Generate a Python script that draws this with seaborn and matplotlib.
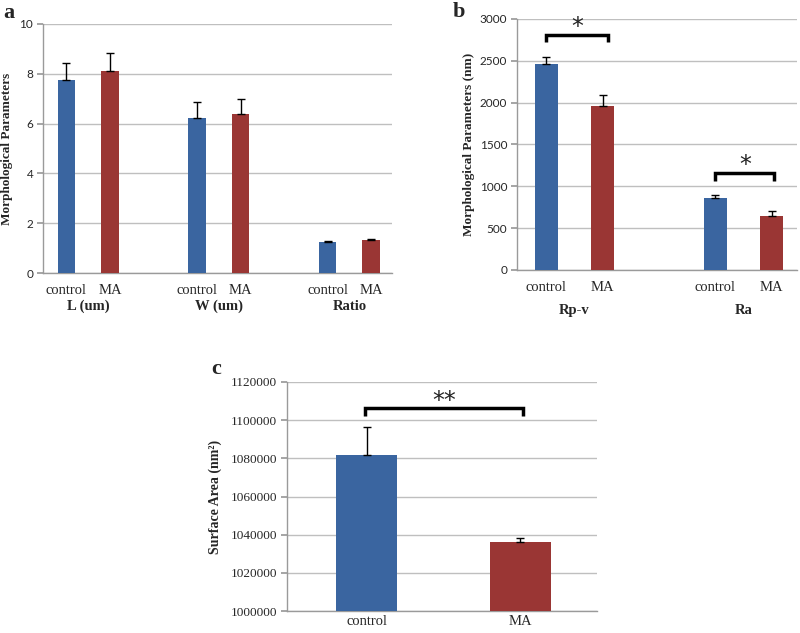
import matplotlib
matplotlib.use("Agg")
import matplotlib.pyplot as plt
import matplotlib.ticker as mticker
import seaborn as sns
import pandas as pd

# panel a - cell size
a_groups = ["L (um)", "W (um)", "Ratio"]
a_control = [7.75, 6.22, 1.25]
a_control_err = [0.70, 0.63, 0.04]
a_ma = [8.12, 6.37, 1.31]
a_ma_err = [0.73, 0.60, 0.05]

# panel b - roughness
b_groups = ["Rp-v", "Ra"]
b_control = [2460, 857]
b_control_err = [90, 43]
b_ma = [1960, 650]
b_ma_err = [135, 60]

# panel c - surface area
c_control = [1082000]
c_control_err = [14500]
c_ma = [1036000]
c_ma_err = [2000]

conditions = ["control", "MA"]
colors = {"control": "#3A65A0", "MA": "#9A3634"}

sns.set_theme(style="white")
plt.rcParams["font.family"] = ["Liberation Serif", "DejaVu Serif"]
SANS = ["Lato", "DejaVu Sans"]
SERIF = ["Liberation Serif", "DejaVu Serif"]


def make_df(control, control_err, ma, ma_err, step):
    rows = []
    for i in range(len(control)):
        rows.append({"pos": step * i, "value": control[i], "err": control_err[i], "cond": "control"})
        rows.append({"pos": step * i + 1, "value": ma[i], "err": ma_err[i], "cond": "MA"})
    return pd.DataFrame(rows)


def draw_panel(ax, df, ylim, yticks, tick_font, tick_size, xpad=8):
    sns.barplot(data=df, x="pos", y="value", hue="cond", palette=colors,
                native_scale=True, dodge=False, width=0.4, errorbar=None,
                saturation=1, legend=False, ax=ax, zorder=3, linewidth=0)
    ax.errorbar(df["pos"], df["value"], yerr=[[0] * len(df), df["err"]],
                fmt="none", ecolor="black", elinewidth=1, capsize=3,
                capthick=1, zorder=4)
    ax.set_ylim(*ylim)
    ax.set_yticks(yticks)
    ax.grid(axis="y", color="#BFBFBF", lw=1, zorder=0)
    ax.grid(axis="x", visible=False)
    for s in ["top", "right"]:
        ax.spines[s].set_visible(False)
    for s in ["left", "bottom"]:
        ax.spines[s].set_color("#9A9A9A")
        ax.spines[s].set_linewidth(1)
    ax.tick_params(axis="y", left=True, length=4, color="#9A9A9A", pad=3)
    ax.tick_params(axis="x", length=0, pad=xpad)
    ax.set_xticks(df["pos"])
    ax.set_xticklabels(df["cond"], fontsize=10.5, family=SERIF)
    for lab in ax.get_yticklabels():
        lab.set_family(tick_font)
        lab.set_fontsize(tick_size)
    ax.set_xlabel("")


def bracket(ax, x0, x1, y_low, y_high, text, ty):
    ax.plot([x0, x0, x1, x1], [y_low, y_high, y_high, y_low], color="black",
            lw=2.5, solid_capstyle="butt", solid_joinstyle="miter", zorder=5)
    ax.text((x0 + x1) / 2, ty, text, ha="center", va="center", fontsize=17,
            family=["DejaVu Sans"], color="#222222", zorder=5)


fig = plt.figure(figsize=(8, 6.33), dpi=100)

# ---- a ----
ax_a = fig.add_axes([43 / 800, 1 - 273 / 633, 349 / 800, 249 / 633])
df_a = make_df(a_control, a_control_err, a_ma, a_ma_err, 3)
draw_panel(ax_a, df_a, (0, 10), [0, 2, 4, 6, 8, 10], SANS, 8.5)
ax_a.set_xlim(-0.54, 7.48)
ax_a.set_ylabel("Morphological Parameters", fontsize=9.5, fontweight="bold")
ax_a.yaxis.set_label_coords(-0.086, 0.5)
for i, g in enumerate(a_groups):
    ax_a.text(3 * i + 0.5, -0.135, g, transform=ax_a.get_xaxis_transform(),
              ha="center", va="center", fontsize=10.5, fontweight="bold")
fig.text(3 / 800, 1 - 13 / 633, "a", fontsize=16, fontweight="bold", va="center")

# ---- b ----
ax_b = fig.add_axes([517 / 800, 1 - 270 / 633, 280 / 800, 251 / 633])
df_b = make_df(b_control, b_control_err, b_ma, b_ma_err, 3)
draw_panel(ax_b, df_b, (0, 3000), [0, 500, 1000, 1500, 2000, 2500, 3000], SANS, 8.5)
ax_b.set_xlim(-0.52, 4.45)
ax_b.set_ylabel("Morphological Parameters (nm)", fontsize=9.5, fontweight="bold")
ax_b.yaxis.set_label_coords(-0.15, 0.5)
for i, g in enumerate(b_groups):
    ax_b.text(3 * i + 0.5, -0.162, g, transform=ax_b.get_xaxis_transform(),
              ha="center", va="center", fontsize=10.5, fontweight="bold")
bracket(ax_b, 0.0, 1.1, 2720, 2810, "*", 2900)
bracket(ax_b, 3.0, 4.05, 1065, 1165, "*", 1250)
fig.text(453 / 800, 1 - 12 / 633, "b", fontsize=16, fontweight="bold", va="center")

# ---- c ----
ax_c = fig.add_axes([287 / 800, 1 - 611 / 633, 310 / 800, 229 / 633])
df_c = make_df(c_control, c_control_err, c_ma, c_ma_err, 2)
draw_panel(ax_c, df_c, (1000000, 1120000),
           [1000000, 1020000, 1040000, 1060000, 1080000, 1100000, 1120000], SERIF, 9.5,
           xpad=3)
ax_c.yaxis.set_major_formatter(mticker.StrMethodFormatter("{x:.0f}"))
for lab in ax_c.get_yticklabels():
    lab.set_family(SERIF)
    lab.set_fontsize(9.5)
ax_c.set_xlim(-0.52, 1.5)
ax_c.set_ylabel("Surface Area (nm²)", fontsize=10, fontweight="bold")
ax_c.yaxis.set_label_coords(-0.209, 0.5)
bracket(ax_c, -0.01, 1.02, 1102000, 1106500, "**", 1110000)
fig.text(211 / 800, 1 - 369 / 633, "c", fontsize=16, fontweight="bold", va="center")

fig.savefig("out.png", dpi=100)
